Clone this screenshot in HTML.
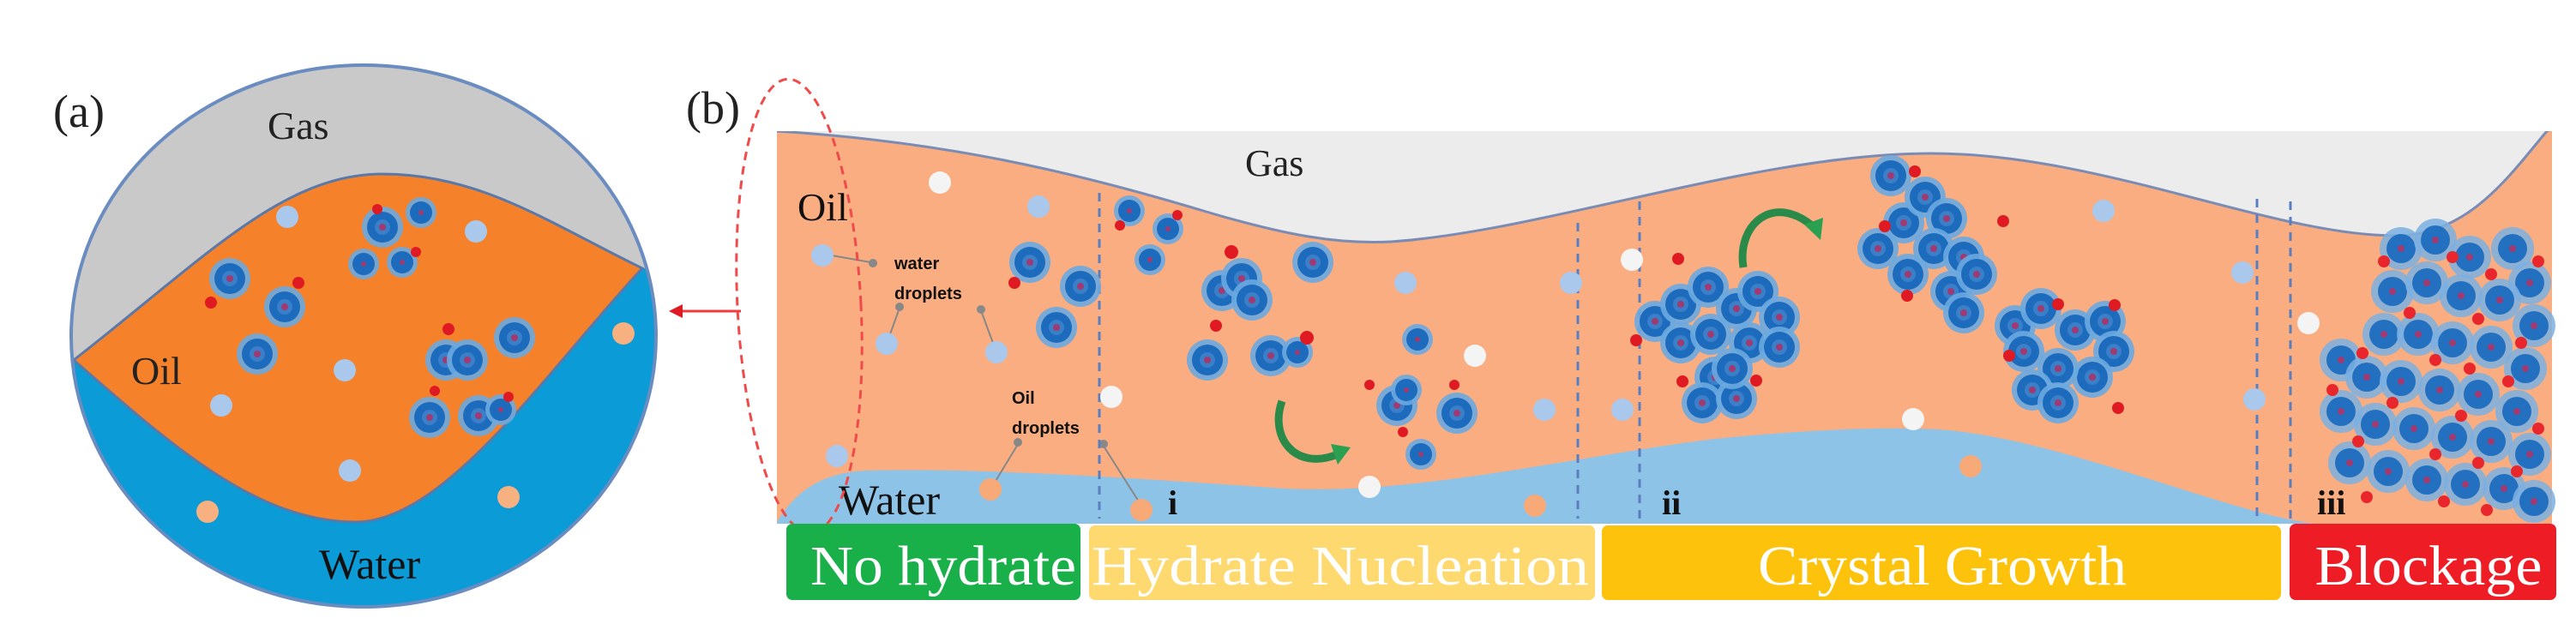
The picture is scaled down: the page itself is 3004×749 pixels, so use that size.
<!DOCTYPE html>
<html><head><meta charset="utf-8"><style>
html,body{margin:0;padding:0;background:#fff;}
svg{display:block;}
</style></head><body>
<svg width="3004" height="749" viewBox="0 0 3004 749" xmlns="http://www.w3.org/2000/svg">
<defs>
<g id="h"><circle r="24" fill="#6aa8e0" opacity="0.9"/><circle r="18" fill="#1d6bbd"/><circle r="9" fill="#3a7fc8"/><circle r="4" fill="#a03a70"/></g>
<g id="hs"><circle r="18" fill="#6aa8e0" opacity="0.9"/><circle r="13" fill="#1d6bbd"/><circle r="3" fill="#a03a70"/></g>
<g id="hb"><circle r="25" fill="#7ab0e2" opacity="0.85"/><circle r="17" fill="#2470c0"/><circle r="4" fill="#a03a70"/></g>
<clipPath id="circ"><ellipse cx="424" cy="392" rx="341" ry="316"/></clipPath>
<clipPath id="panel"><rect x="906" y="153" width="2070" height="458"/></clipPath>
</defs>

<!-- (a) -->
<text x="62" y="148" font-family="Liberation Serif,serif" font-size="54" fill="#222">(a)</text>
<g clip-path="url(#circ)">
<rect x="80" y="70" width="700" height="650" fill="#0b9bd6"/>
<path d="M80,70 H780 V313 L749,313 C640,260 560,203 446,203 C330,203 240,300 86,420 L80,420 Z" fill="#c9c9c9"/>
<path d="M86,420 C240,300 330,203 446,203 C560,203 640,260 749,313 C640,430 520,609 415,609 C300,609 200,520 86,420 Z" fill="#f5822a" stroke="#5a78a8" stroke-width="3"/>
</g>
<ellipse cx="424" cy="392" rx="341" ry="316" fill="none" stroke="#6a8cc0" stroke-width="4"/>
<text x="312" y="162" font-family="Liberation Serif,serif" font-size="46" fill="#222">Gas</text>
<text x="153" y="448" font-family="Liberation Serif,serif" font-size="46" fill="#222">Oil</text>
<text x="372" y="675" font-family="Liberation Serif,serif" font-size="50" fill="#111">Water</text>
<g fill="#a9c8ec">
<circle cx="335" cy="253" r="13"/><circle cx="555" cy="270" r="13"/><circle cx="402" cy="432" r="13"/><circle cx="258" cy="473" r="13"/><circle cx="408" cy="549" r="13"/>
</g>
<g fill="#f7b07f"><circle cx="727" cy="389" r="13"/><circle cx="593" cy="580" r="13"/><circle cx="242" cy="597" r="13"/></g>
<use href="#h" x="446" y="265"/><use href="#hs" x="491" y="248"/><use href="#hs" x="424" y="308"/><use href="#hs" x="469" y="306"/>
<use href="#h" x="268" y="325"/><use href="#h" x="332" y="358"/><use href="#h" x="300" y="413"/><use href="#h" x="520" y="420"/><use href="#h" x="545" y="420"/>
<use href="#h" x="600" y="394"/><use href="#h" x="501" y="487"/><use href="#h" x="558" y="485"/><use href="#hs" x="584" y="478"/>
<g fill="#e01a22"><circle cx="440" cy="244" r="6"/><circle cx="485" cy="294" r="6"/><circle cx="348" cy="330" r="7"/><circle cx="246" cy="353" r="7"/><circle cx="523" cy="384" r="7"/><circle cx="507" cy="456" r="6"/><circle cx="593" cy="463" r="6"/></g>
<line x1="864" y1="363" x2="790" y2="363" stroke="#ef3b3b" stroke-width="3"/>
<polygon points="780,363 796,355 796,371" fill="#e01a22"/>

<!-- (b) -->
<text x="800" y="144" font-family="Liberation Serif,serif" font-size="54" fill="#222">(b)</text>
<g clip-path="url(#panel)">
<rect x="906" y="153" width="2070" height="458" fill="#f9ad80"/>
<path d="M906,153 C1100,165 1250,200 1400,245 C1500,275 1560,285 1622,282 C1800,270 2050,179 2252,179 C2450,179 2650,275 2794,275 C2880,275 2930,200 2970,153 L2976,150 L906,150 Z" fill="#ececec" stroke="#7a8cb4" stroke-width="3"/>
<path d="M906,615 L906,609 C930,570 960,552 1010,549 C1150,545 1350,560 1500,570 C1650,578 1850,530 2000,512 C2120,500 2200,498 2260,501 C2400,510 2600,600 2700,611 L2700,615 Z" fill="#8ec3e8"/>
</g>
<text x="1452" y="205" font-family="Liberation Serif,serif" font-size="44" fill="#222">Gas</text>
<text x="930" y="257" font-family="Liberation Serif,serif" font-size="46" fill="#111">Oil</text>
<text x="978" y="600" font-family="Liberation Serif,serif" font-size="50" fill="#111">Water</text>
<g font-family="Liberation Sans,sans-serif" font-size="20" font-weight="bold" fill="#111">
<text x="1043" y="314">water</text><text x="1043" y="349">droplets</text>
<text x="1180" y="471">Oil</text><text x="1180" y="506">droplets</text>
</g>
<g stroke="#888" stroke-width="2" fill="#888">
<line x1="970" y1="298" x2="1015" y2="306"/><circle cx="1018" cy="307" r="4"/>
<line x1="1034" y1="401" x2="1048" y2="362"/><circle cx="1049" cy="358" r="4"/>
<line x1="1162" y1="411" x2="1145" y2="365"/><circle cx="1144" cy="361" r="4"/>
<line x1="1155" y1="571" x2="1186" y2="520"/><circle cx="1187" cy="516" r="4"/>
<line x1="1331" y1="590" x2="1288" y2="522"/><circle cx="1287" cy="518" r="4"/>
</g>
<g font-family="Liberation Serif,serif" font-size="40" font-weight="bold" fill="#111">
<text x="1362" y="600">i</text><text x="1938" y="600">ii</text><text x="2702" y="600">iii</text>
</g>
<g stroke="#5b7ec0" stroke-width="3" stroke-dasharray="10,8">
<line x1="1282" y1="225" x2="1282" y2="605"/>
<line x1="1840" y1="260" x2="1840" y2="605"/>
<line x1="1912" y1="235" x2="1912" y2="605"/>
<line x1="2632" y1="232" x2="2632" y2="605"/>
<line x1="2671" y1="235" x2="2671" y2="605"/>
</g>
<g fill="#a9c8ec">
<circle cx="1211" cy="241" r="13"/><circle cx="959" cy="298" r="13"/><circle cx="1034" cy="401" r="13"/><circle cx="1162" cy="411" r="13"/><circle cx="976" cy="532" r="13"/><circle cx="1639" cy="330" r="13"/><circle cx="1832" cy="330" r="13"/><circle cx="1801" cy="478" r="13"/><circle cx="1892" cy="478" r="13"/><circle cx="2453" cy="246" r="13"/><circle cx="2615" cy="318" r="13"/><circle cx="2629" cy="466" r="13"/>
</g>
<g fill="#f4f4f4"><circle cx="1096" cy="213" r="13"/><circle cx="1296" cy="463" r="13"/><circle cx="1720" cy="415" r="13"/><circle cx="1597" cy="568" r="13"/><circle cx="1903" cy="303" r="13"/><circle cx="2231" cy="489" r="13"/><circle cx="2692" cy="377" r="13"/></g>
<g fill="#f7a978"><circle cx="1155" cy="571" r="13"/><circle cx="1331" cy="595" r="13"/><circle cx="1790" cy="590" r="13"/><circle cx="2298" cy="544" r="13"/></g>
<!-- nucleation -->
<use href="#hs" x="1317" y="246"/><use href="#hs" x="1362" y="267"/><use href="#hs" x="1341" y="303"/><use href="#h" x="1201" y="306"/><use href="#h" x="1260" y="334"/><use href="#h" x="1232" y="382"/>
<use href="#h" x="1425" y="339"/><use href="#h" x="1448" y="325"/><use href="#h" x="1460" y="350"/><use href="#h" x="1531" y="306"/><use href="#h" x="1408" y="420"/><use href="#h" x="1482" y="415"/><use href="#hs" x="1513" y="411"/>
<use href="#hs" x="1653" y="396"/><use href="#h" x="1629" y="473"/><use href="#hs" x="1640" y="455"/><use href="#h" x="1699" y="482"/><use href="#hs" x="1657" y="530"/>
<g fill="#e01a22"><circle cx="1183" cy="330" r="7"/><circle cx="1373" cy="251" r="6"/><circle cx="1306" cy="263" r="6"/><circle cx="1436" cy="294" r="8"/><circle cx="1418" cy="380" r="7"/><circle cx="1524" cy="394" r="8"/><circle cx="1597" cy="449" r="6"/><circle cx="1696" cy="449" r="6"/><circle cx="1636" cy="504" r="6"/></g>
<path d="M1495,468 C1480,510 1510,550 1560,530" fill="none" stroke="#2a8a4a" stroke-width="9"/>
<polygon points="1575,522 1552,518 1560,542" fill="#2aa050"/>
<path d="M2033,312 C2025,260 2070,225 2115,265" fill="none" stroke="#2a8a4a" stroke-width="9"/>
<polygon points="2123,280 2104,262 2126,254" fill="#2aa050"/>
<!-- growth clusters -->
<g>
<use href="#h" x="1930" y="375"/><use href="#h" x="1960" y="355"/><use href="#h" x="1992" y="335"/><use href="#h" x="2025" y="360"/><use href="#h" x="2050" y="340"/><use href="#h" x="2075" y="370"/>
<use href="#h" x="1960" y="400"/><use href="#h" x="1995" y="390"/><use href="#h" x="2040" y="400"/><use href="#h" x="2075" y="405"/><use href="#h" x="2000" y="440"/><use href="#h" x="1985" y="470"/><use href="#h" x="2025" y="465"/><use href="#h" x="2020" y="430"/>
<use href="#h" x="2190" y="290"/><use href="#h" x="2220" y="260"/><use href="#h" x="2245" y="230"/><use href="#h" x="2270" y="255"/><use href="#h" x="2255" y="290"/><use href="#h" x="2225" y="320"/><use href="#h" x="2290" y="300"/><use href="#h" x="2275" y="340"/><use href="#h" x="2305" y="320"/><use href="#h" x="2290" y="365"/><use href="#h" x="2205" y="205"/>
<use href="#h" x="2350" y="380"/><use href="#h" x="2380" y="360"/><use href="#h" x="2420" y="385"/><use href="#h" x="2455" y="375"/><use href="#h" x="2465" y="410"/><use href="#h" x="2440" y="440"/><use href="#h" x="2400" y="430"/><use href="#h" x="2370" y="455"/><use href="#h" x="2400" y="470"/><use href="#h" x="2360" y="410"/>
</g>
<g fill="#e01a22"><circle cx="1957" cy="302" r="7"/><circle cx="1908" cy="397" r="7"/><circle cx="1962" cy="445" r="7"/><circle cx="2048" cy="444" r="7"/><circle cx="2233" cy="200" r="7"/><circle cx="2198" cy="264" r="7"/><circle cx="2336" cy="258" r="7"/><circle cx="2224" cy="345" r="7"/><circle cx="2400" cy="355" r="7"/><circle cx="2466" cy="356" r="7"/><circle cx="2343" cy="415" r="7"/><circle cx="2470" cy="476" r="7"/></g>
<!-- blockage -->
<g>
<use href="#hb" x="2800" y="290"/><use href="#hb" x="2840" y="280"/><use href="#hb" x="2880" y="300"/><use href="#hb" x="2930" y="290"/><use href="#hb" x="2950" y="330"/>
<use href="#hb" x="2790" y="340"/><use href="#hb" x="2830" y="330"/><use href="#hb" x="2870" y="345"/><use href="#hb" x="2915" y="350"/><use href="#hb" x="2955" y="380"/>
<use href="#hb" x="2780" y="390"/><use href="#hb" x="2820" y="390"/><use href="#hb" x="2860" y="400"/><use href="#hb" x="2905" y="405"/><use href="#hb" x="2945" y="430"/>
<use href="#hb" x="2730" y="420"/><use href="#hb" x="2760" y="440"/><use href="#hb" x="2800" y="445"/><use href="#hb" x="2845" y="455"/><use href="#hb" x="2890" y="460"/><use href="#hb" x="2935" y="480"/>
<use href="#hb" x="2730" y="480"/><use href="#hb" x="2770" y="495"/><use href="#hb" x="2815" y="500"/><use href="#hb" x="2860" y="510"/><use href="#hb" x="2905" y="515"/><use href="#hb" x="2950" y="530"/>
<use href="#hb" x="2740" y="540"/><use href="#hb" x="2785" y="550"/><use href="#hb" x="2830" y="560"/><use href="#hb" x="2875" y="565"/><use href="#hb" x="2920" y="570"/><use href="#hb" x="2955" y="585"/>
</g>
<g fill="#e8262c">
<circle cx="2780" cy="305" r="7"/><circle cx="2860" cy="300" r="7"/><circle cx="2905" cy="320" r="7"/><circle cx="2960" cy="305" r="7"/><circle cx="2810" cy="365" r="7"/><circle cx="2890" cy="372" r="7"/><circle cx="2940" cy="400" r="7"/>
<circle cx="2755" cy="412" r="7"/><circle cx="2840" cy="420" r="7"/><circle cx="2880" cy="430" r="7"/><circle cx="2925" cy="445" r="7"/><circle cx="2720" cy="455" r="7"/><circle cx="2790" cy="470" r="7"/><circle cx="2870" cy="485" r="7"/><circle cx="2960" cy="500" r="7"/>
<circle cx="2750" cy="515" r="7"/><circle cx="2840" cy="530" r="7"/><circle cx="2890" cy="540" r="7"/><circle cx="2935" cy="550" r="7"/><circle cx="2760" cy="580" r="7"/><circle cx="2850" cy="585" r="7"/><circle cx="2900" cy="595" r="7"/>
</g>
<!-- dashed ellipse -->
<ellipse cx="932" cy="357" rx="72" ry="265" transform="rotate(-3 932 357)" fill="none" stroke="#ef4b4b" stroke-width="3" stroke-dasharray="10,7"/>
<!-- stage bars -->
<g font-family="Liberation Serif,serif" font-size="66" fill="#fff" text-anchor="middle">
<rect x="917" y="611" width="343" height="89" rx="7" fill="#19b04a"/><text x="1100" y="682" textLength="310" lengthAdjust="spacingAndGlyphs">No hydrate</text>
<rect x="1270" y="613" width="590" height="87" rx="7" fill="#fdd970"/><text x="1563" y="682" textLength="580" lengthAdjust="spacingAndGlyphs">Hydrate Nucleation</text>
<rect x="1868" y="613" width="792" height="87" rx="7" fill="#fdc30c"/><text x="2265" y="682" textLength="430" lengthAdjust="spacingAndGlyphs">Crystal Growth</text>
<rect x="2670" y="611" width="311" height="89" rx="7" fill="#ee1c25"/><text x="2832" y="682" textLength="265" lengthAdjust="spacingAndGlyphs">Blockage</text>
</g>
</svg>
</body></html>
